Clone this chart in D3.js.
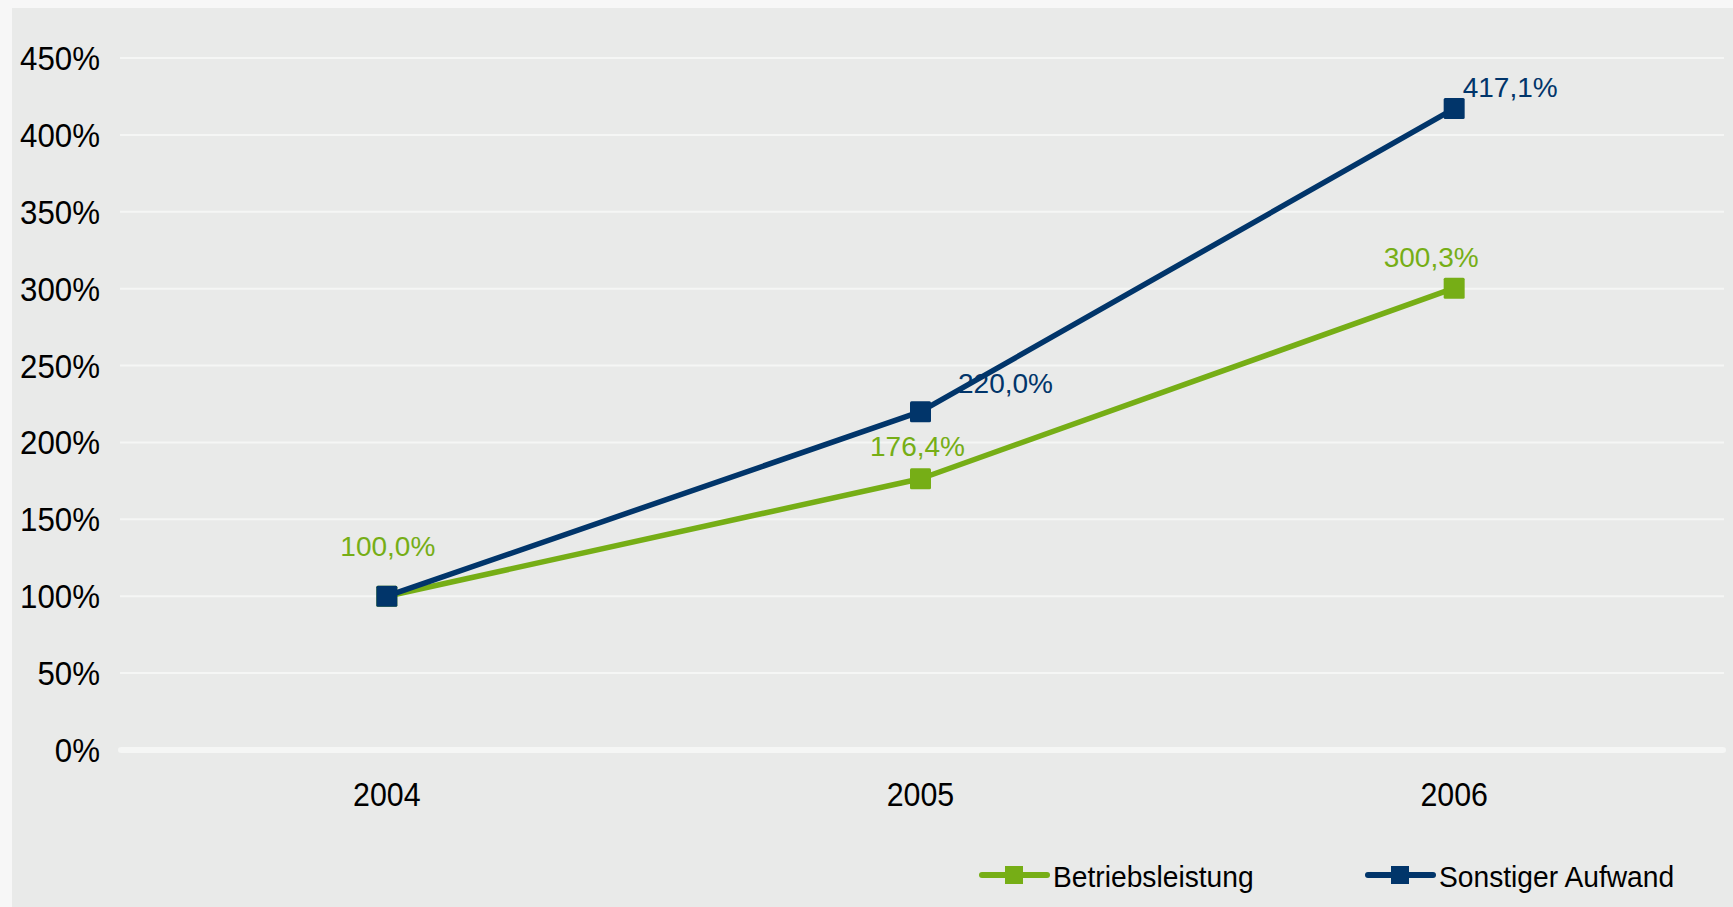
<!DOCTYPE html>
<html>
<head>
<meta charset="utf-8">
<script src="https://d3js.org/d3.v7.min.js"></script>
<style>
  body { margin: 0; background: #f7f7f7; }
  svg { display: block; font-family: "Liberation Sans", Arial, sans-serif; }
</style>
</head>
<body>
<svg id="chart" width="1733" height="907"></svg>
<script>
// data
var years = ["2004", "2005", "2006"];
var betriebsleistung = [1.000, 1.764, 3.003];
var sonstigerAufwand = [1.000, 2.200, 4.171];
var seriesNames = ["Betriebsleistung", "Sonstiger Aufwand"];
var yTicks = [0, 0.5, 1, 1.5, 2, 2.5, 3, 3.5, 4, 4.5];

var green = "#76ae16", navy = "#01356a";

// label offsets (hand placed, like the original)
var labelOffsetGreen = [[1, -40], [-3, -23], [-23, -21]];
var labelOffsetNavy = [[0, 0], [85, -19], [56, -12]];

var svg = d3.select("#chart");
var squeeze = 0.92; // axis text in the original is a bit narrow

svg.append("rect")
  .attr("x", 12).attr("y", 8)
  .attr("width", 1733 - 12).attr("height", 907 - 8)
  .attr("fill", "#e9eae9");

var x = d3.scaleBand().domain(years).range([120, 1721]);
var y = d3.scaleLinear().domain([0, 4.5]).range([750, 58]);
var cx = function(d) { return x(d) + x.bandwidth() / 2; };
var fmt = function(v) { return d3.format(".1f")(v * 100).replace(".", ",") + "%"; };

// gridlines
svg.append("g").selectAll("line")
  .data(yTicks.filter(function(t) { return t > 0; }))
  .join("line")
  .attr("x1", 120).attr("x2", 1724)
  .attr("y1", function(d) { return y(d); })
  .attr("y2", function(d) { return y(d); })
  .attr("stroke", "#f5f6f5")
  .attr("stroke-width", 2);

svg.append("line")
  .attr("x1", 121).attr("x2", 1723)
  .attr("y1", y(0)).attr("y2", y(0))
  .attr("stroke", "#f5f6f5")
  .attr("stroke-width", 6)
  .attr("stroke-linecap", "round");

// y tick labels
svg.append("g").selectAll("text")
  .data(yTicks)
  .join("text")
  .attr("transform", function(d) { return "translate(100," + (y(d) + 12) + ") scale(" + squeeze + ",1)"; })
  .attr("text-anchor", "end")
  .attr("font-size", 34)
  .attr("fill", "#000")
  .text(function(d) { return d3.format(".0f")(d * 100) + "%"; });

// x tick labels
svg.append("g").selectAll("text")
  .data(years)
  .join("text")
  .attr("transform", function(d) { return "translate(" + cx(d) + ",806) scale(" + squeeze + ",1)"; })
  .attr("text-anchor", "middle")
  .attr("font-size", 33)
  .attr("fill", "#000")
  .text(function(d) { return d; });

function drawSeries(vals, color, offsets, showFirst) {
  var pts = vals.map(function(v, i) { return { year: years[i], v: v, off: offsets[i], i: i }; });
  var line = d3.line().x(function(d) { return cx(d.year); }).y(function(d) { return y(d.v); });
  svg.append("path")
    .datum(pts)
    .attr("d", line)
    .attr("fill", "none")
    .attr("stroke", color)
    .attr("stroke-width", 5.5)
    .attr("stroke-linejoin", "round");
  svg.append("g").selectAll("rect")
    .data(pts)
    .join("rect")
    .attr("x", function(d) { return cx(d.year) - 10.5; })
    .attr("y", function(d) { return y(d.v) - 10.5; })
    .attr("width", 21).attr("height", 21)
    .attr("rx", 1.5)
    .attr("fill", color);
  svg.append("g").selectAll("text")
    .data(pts.filter(function(d) { return showFirst || d.i > 0; }))
    .join("text")
    .attr("x", function(d) { return cx(d.year) + d.off[0]; })
    .attr("y", function(d) { return y(d.v) + d.off[1]; })
    .attr("text-anchor", "middle")
    .attr("font-size", 28)
    .attr("fill", color)
    .text(function(d) { return fmt(d.v); });
}

drawSeries(betriebsleistung, green, labelOffsetGreen, true);
drawSeries(sonstigerAufwand, navy, labelOffsetNavy, false);

// legend
var legendX = [982, 1368];
var legendColors = [green, navy];
var lg = svg.append("g").selectAll("g")
  .data(seriesNames)
  .join("g")
  .attr("transform", function(d, i) { return "translate(" + legendX[i] + ",875)"; });
lg.append("line")
  .attr("x1", 0).attr("x2", 65)
  .attr("stroke", function(d, i) { return legendColors[i]; })
  .attr("stroke-width", 6)
  .attr("stroke-linecap", "round");
lg.append("rect")
  .attr("x", 23).attr("y", -9)
  .attr("width", 18).attr("height", 18)
  .attr("fill", function(d, i) { return legendColors[i]; });
lg.append("text")
  .attr("transform", "translate(71,12) scale(0.94,1)")
  .attr("font-size", 30)
  .attr("fill", "#000")
  .text(function(d) { return d; });
</script>
</body>
</html>
